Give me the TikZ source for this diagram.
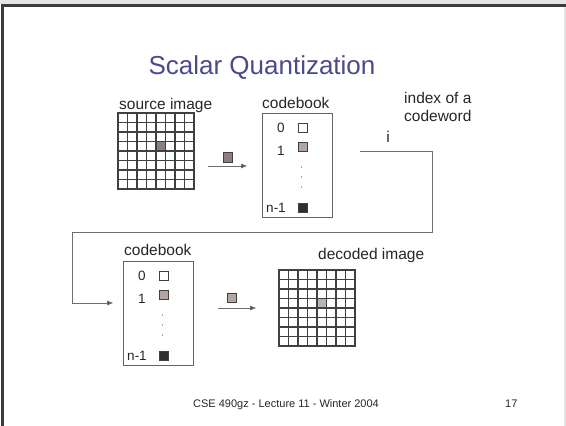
\documentclass[tikz,border=0pt]{standalone}
\usepackage{fontspec}
\setmainfont{Liberation Sans}
\usetikzlibrary{arrows.meta}

\definecolor{titleblue}{RGB}{74,74,140}
\definecolor{framedark}{RGB}{60,60,60}
\definecolor{framelight}{RGB}{228,228,228}
\definecolor{gridline}{RGB}{64,64,64}
\definecolor{boxline}{RGB}{100,100,100}
\definecolor{wireline}{RGB}{110,110,110}
\definecolor{pixdark}{RGB}{140,128,124}
\definecolor{pixlight}{RGB}{178,166,162}
\definecolor{cwdark}{RGB}{45,45,52}

\tikzset{
  x=1pt, y=-1pt,
  lbl/.style={font=\fontsize{15.5}{18}\selectfont, text=black!85, inner sep=0pt},
  num/.style={font=\fontsize{13.5}{16}\selectfont, text=black!85, inner sep=0pt},
  foot/.style={font=\fontsize{11}{13}\selectfont, text=black!85, inner sep=0pt},
  cwsq/.style={draw=black!75, line width=0.8pt, minimum size=9.5pt, inner sep=0pt},
  cbframe/.style={draw=boxline, line width=1pt, minimum width=70pt, minimum height=104pt, inner sep=0pt},
  wire/.style={draw=wireline, line width=1pt},
  flow/.style={wire, -{Triangle[length=6pt,width=4.5pt]}, arrows={[fill=black!80]}},
  pics/codebook/.style={code={
    \node[cbframe, anchor=north west] (-box) at (0,0) {};
    \node[num, anchor=center] (-n0) at (19,14.5) {0};
    \node[num, anchor=center] (-n1) at (19,37.5) {1};
    \node[num, anchor=center] (-nl) at (14,95) {n-1};
    \node[cwsq, fill=white] (-c0) at (41,15) {};
    \node[cwsq, fill=pixlight] (-c1) at (41,34) {};
    \node[cwsq, fill=cwdark] (-cl) at (41,95) {};
    \foreach \k in {0,1,2}{\fill[black!70] (39.5,54+10*\k) circle (0.6pt);}
  }},
  pics/pixgrid/.style={code={
    \fill[pixdark!#1] (38,28.5) rectangle (47.5,38);
    \draw[gridline, line width=1.1pt] (0,0) grid[step=9.5pt] (76,76);
    \draw[gridline, line width=1.3pt] (0,0) rectangle (76,76);
    \coordinate (-east) at (76,38);
    \coordinate (-west) at (0,38);
  }}
}

\begin{document}
\begin{tikzpicture}
\useasboundingbox (0,0) rectangle (566,426);

% slide frame
\fill[framelight] (0,0) rectangle (566,4);
\fill[framelight] (564,0) rectangle (566,426);
\fill[framedark] (1,4) rectangle (566,6.5);
\fill[framedark] (1,4) rectangle (3.5,426);

% title
\node[font=\fontsize{26}{30}\selectfont, text=titleblue, anchor=base, inner sep=0pt] (title) at (262,74) {Scalar Quantization};

% encoder side
\node[lbl, anchor=base west] (srclbl) at (119,109) {source image};
\pic (src) at (118,113) {pixgrid=100};

\node[lbl, anchor=base west] (cbAlbl) at (262,108) {codebook};
\pic (cbA) at (262,113) {codebook};

\node[cwsq, fill=pixdark] (sqA) at (228,157.5) {};
\coordinate (a1s) at (208,166);
\coordinate (a1e) at (247,166);
\draw[flow] (a1s) -- (a1e);

\node[lbl, anchor=base west] (idx1) at (404,103) {index of a};
\node[lbl, anchor=base west] (idx2) at (404,121) {codeword};
\node[lbl, anchor=base] (ilbl) at (388,142) {i};

% index channel back to the decoder
\coordinate (w0) at (360,151);
\coordinate (w1) at (432,151);
\coordinate (w2) at (432,232);
\coordinate (w3) at (72,232);
\coordinate (w4) at (72,303);
\coordinate (w5) at (113,303);
\draw[wire] (w0) -- (w1) -- (w2) -- (w3) -- (w4);
\draw[flow] (w4) -- (w5);

% decoder side
\node[lbl, anchor=base west] (cbBlbl) at (124,255) {codebook};
\pic (cbB) at (123,261) {codebook};

\node[cwsq, fill=pixlight] (sqB) at (232,298) {};
\coordinate (a2s) at (218,308);
\coordinate (a2e) at (256,308);
\draw[flow] (a2s) -- (a2e);

\node[lbl, anchor=base west] (declbl) at (318,259) {decoded image};
\pic (dec) at (279,270) {pixgrid=60};

% footer
\node[foot, anchor=base west] (footer) at (193,407) {CSE 490gz - Lecture 11 - Winter 2004};
\node[foot, anchor=base west] (pageno) at (505,407) {17};
\end{tikzpicture}
\end{document}
